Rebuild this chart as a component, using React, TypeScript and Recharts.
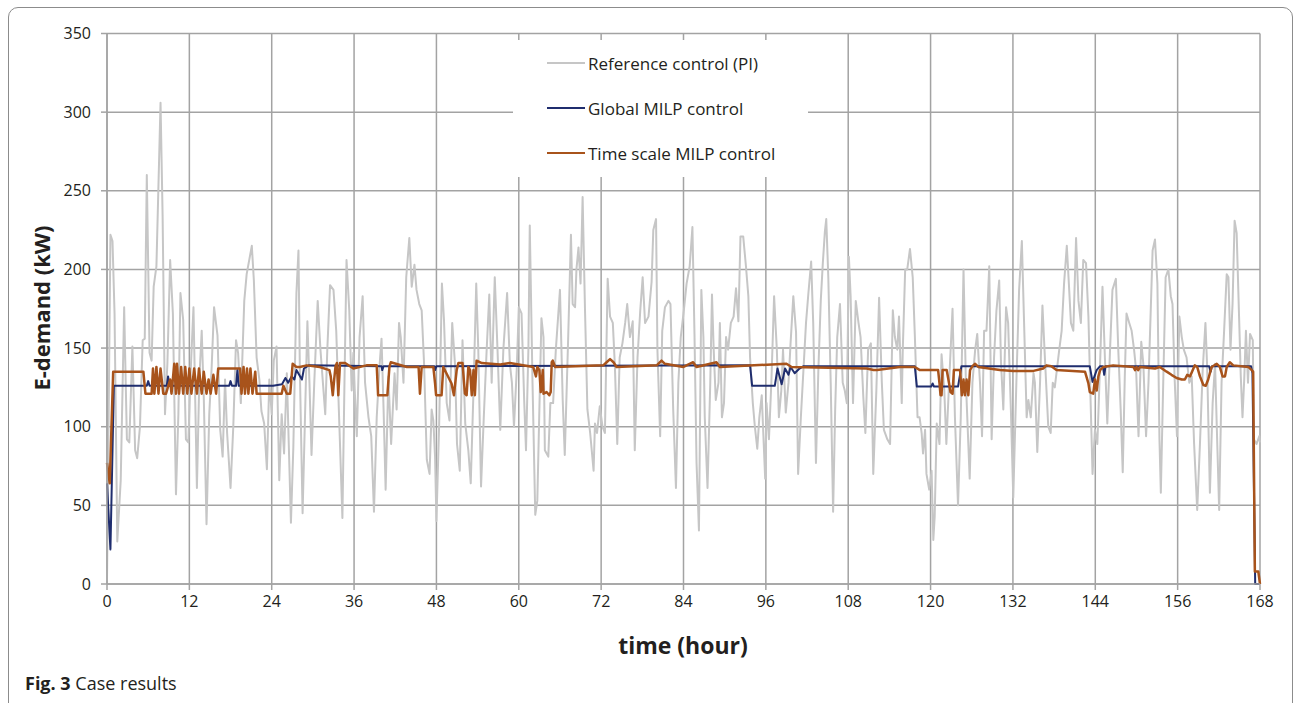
import { LineChart, Line, XAxis, YAxis, CartesianGrid } from 'recharts';

// hour, kW
const hourTicks = [0, 12, 24, 36, 48, 60, 72, 84, 96, 108, 120, 132, 144, 156, 168];
const demandTicks = [0, 50, 100, 150, 200, 250, 300, 350];

const referencePI: [number, number][] = [
  [0, 2], [0.5, 222], [0.8, 218], [1.1, 172], [1.5, 27], [2.0, 66], [2.5, 176], [2.9, 92], [3.25, 90], [3.7, 151],
  [4.1, 85], [4.4, 80], [4.8, 100], [5.2, 155], [5.5, 156], [5.8, 260], [6.2, 147], [6.5, 142], [6.8, 189], [7.2, 202],
  [7.8, 306], [8.1, 235], [8.45, 108], [8.8, 140], [9.2, 206], [9.6, 172], [10.05, 57], [10.4, 108], [10.7, 185], [11.1, 168],
  [11.5, 92], [11.85, 90], [12.2, 136], [12.6, 176], [13.1, 61], [13.45, 130], [13.8, 161], [14.1, 119], [14.5, 38], [14.9, 108],
  [15.25, 138], [15.6, 176], [16.1, 158], [16.5, 98], [16.85, 81], [17.2, 130], [17.5, 96], [18.0, 61], [18.4, 100], [18.8, 155],
  [19.1, 147], [19.5, 115], [20.0, 180], [20.35, 197], [21.1, 215], [21.4, 193], [21.8, 144], [22.2, 130], [22.5, 110], [22.9, 102],
  [23.3, 73], [23.65, 130], [24.0, 108], [24.3, 142], [24.7, 151], [25.1, 66], [25.45, 108], [25.8, 83], [26.2, 134], [26.8, 39],
  [27.15, 87], [27.6, 185], [27.9, 212], [28.1, 136], [28.5, 45], [28.85, 106], [29.2, 167], [29.5, 128], [29.8, 82], [30.2, 128],
  [30.7, 180], [31.1, 149], [31.8, 108], [32.1, 149], [32.5, 190], [33.0, 187], [33.4, 161], [33.85, 102], [34.3, 42], [34.6, 128],
  [34.9, 206], [35.3, 174], [35.65, 123], [35.9, 147], [36.1, 123], [36.4, 94], [36.8, 157], [37.25, 183], [37.6, 128], [38.1, 106],
  [38.5, 94], [38.9, 46], [39.3, 106], [39.7, 138], [40.0, 156], [40.3, 111], [40.6, 60], [41.0, 132], [41.4, 89], [41.9, 134],
  [42.2, 111], [42.55, 166], [42.8, 157], [43.2, 128], [43.6, 195], [44.05, 220], [44.4, 189], [44.8, 203], [45.1, 187], [45.5, 178],
  [45.85, 174], [46.2, 140], [46.6, 79], [47.0, 70], [47.3, 111], [47.55, 104], [47.8, 81], [48.0, 40], [48.4, 102], [48.8, 191],
  [49.1, 168], [49.5, 115], [49.9, 104], [50.3, 166], [50.7, 140], [51.0, 89], [51.4, 72], [51.8, 155], [52.2, 102], [52.65, 85],
  [53.0, 64], [53.4, 123], [53.8, 191], [54.1, 149], [54.5, 62], [54.9, 106], [55.3, 147], [55.7, 184], [56.05, 128], [56.5, 195],
  [56.9, 149], [57.3, 98], [57.75, 149], [58.3, 185], [58.7, 140], [59.0, 128], [59.3, 100], [59.7, 136], [60.0, 176], [60.4, 172],
  [60.8, 115], [61.05, 85], [61.4, 149], [61.6, 228], [62.0, 128], [62.4, 44], [62.7, 53], [63.0, 111], [63.3, 169], [63.6, 157],
  [63.8, 85], [64.3, 81], [64.6, 115], [65.0, 115], [65.4, 149], [66.0, 187], [66.4, 117], [66.7, 82], [67.2, 157], [67.6, 222],
  [67.85, 178], [68.2, 176], [68.4, 200], [68.7, 214], [69.0, 191], [69.3, 246], [69.65, 174], [70.0, 111], [70.4, 96], [70.9, 72],
  [71.1, 102], [71.4, 96], [71.8, 113], [72.2, 100], [72.55, 96], [72.95, 194], [73.3, 170], [73.7, 166], [74.0, 139], [74.35, 89],
  [74.7, 144], [75.1, 153], [75.5, 166], [75.8, 178], [76.2, 157], [76.6, 167], [76.9, 85], [77.3, 144], [77.7, 174], [78.05, 195],
  [78.4, 166], [78.9, 170], [79.35, 192], [79.6, 225], [80.0, 232], [80.2, 149], [80.6, 94], [80.9, 161], [81.3, 176], [81.8, 180],
  [82.1, 178], [82.5, 111], [82.9, 61], [83.25, 128], [83.6, 157], [84.05, 174], [84.45, 191], [84.9, 202], [85.3, 227], [85.6, 159],
  [85.9, 77], [86.25, 34], [86.6, 187], [86.9, 157], [87.1, 106], [87.5, 61], [87.9, 128], [88.15, 184], [88.4, 149], [88.7, 117],
  [89.1, 128], [89.3, 166], [89.6, 106], [89.9, 115], [90.2, 157], [90.5, 149], [90.9, 166], [91.3, 170], [91.65, 188], [92.0, 167],
  [92.3, 221], [92.7, 221], [93.1, 202], [93.45, 183], [93.7, 144], [94.1, 115], [94.4, 100], [94.75, 86], [95.05, 106], [95.4, 120],
  [95.9, 67], [96.1, 115], [96.45, 92], [96.8, 128], [97.2, 183], [97.6, 149], [97.9, 106], [98.25, 123], [98.5, 149], [98.9, 109],
  [99.3, 128], [99.6, 153], [100.0, 183], [100.4, 160], [100.7, 70], [101.1, 106], [101.5, 138], [101.85, 166], [102.2, 185], [102.6, 205],
  [102.9, 166], [103.3, 77], [103.65, 136], [104.0, 180], [104.3, 204], [104.6, 224], [104.8, 232], [105.1, 195], [105.45, 128], [105.8, 46],
  [106.1, 111], [106.4, 157], [106.8, 178], [107.2, 128], [107.5, 123], [107.8, 115], [108.1, 208], [108.35, 183], [108.7, 115], [109.1, 180],
  [109.5, 166], [109.8, 157], [110.2, 119], [110.5, 96], [110.9, 149], [111.3, 153], [111.65, 70], [112.1, 123], [112.5, 182], [112.9, 128],
  [113.2, 98], [113.7, 92], [114.1, 89], [114.5, 174], [114.8, 157], [115.15, 149], [115.4, 170], [115.8, 115], [115.95, 149], [116.3, 200],
  [116.6, 200], [117.0, 213], [117.4, 195], [117.7, 159], [118.1, 106], [118.4, 106], [118.7, 96], [118.9, 83], [119.2, 98], [119.4, 70],
  [119.8, 60], [120.15, 72], [120.4, 28], [120.6, 43], [120.9, 102], [121.3, 89], [121.6, 146], [122.0, 123], [122.3, 89], [122.7, 128],
  [123.2, 175], [123.55, 106], [124.0, 50], [124.4, 106], [124.8, 200], [125.15, 128], [125.7, 67], [126.1, 128], [126.5, 149], [126.8, 159],
  [127.2, 128], [127.5, 94], [127.8, 161], [128.15, 161], [128.55, 202], [128.9, 92], [129.25, 144], [129.6, 174], [130.0, 193], [130.25, 142],
  [130.6, 111], [131.0, 176], [131.3, 166], [131.7, 111], [132.05, 55], [132.5, 128], [132.9, 187], [133.3, 218], [133.6, 170], [134.0, 106],
  [134.25, 117], [134.6, 106], [135.0, 134], [135.2, 128], [135.55, 84], [135.95, 128], [136.3, 177], [136.7, 140], [137.15, 100], [137.5, 96],
  [137.8, 128], [138.1, 125], [138.75, 149], [139.1, 161], [139.45, 191], [139.85, 215], [140.15, 191], [140.45, 166], [140.8, 161], [141.2, 220],
  [141.55, 180], [141.9, 166], [142.25, 206], [142.65, 204], [143.0, 170], [143.3, 119], [143.6, 70], [143.95, 98], [144.3, 89], [144.7, 140],
  [145.05, 189], [145.4, 144], [145.75, 102], [146.15, 149], [146.5, 187], [147.0, 194], [147.35, 149], [147.7, 111], [148.0, 71], [148.3, 132],
  [148.55, 172], [148.95, 166], [149.3, 161], [149.65, 149], [149.95, 136], [150.3, 94], [150.7, 154], [151.0, 140], [151.4, 94], [151.75, 128],
  [152.05, 170], [152.35, 212], [152.7, 219], [153.05, 191], [153.35, 92], [153.55, 58], [153.9, 128], [154.25, 195], [154.65, 200], [155.0, 183],
  [155.25, 178], [155.55, 132], [155.9, 94], [156.25, 170], [156.6, 157], [156.9, 149], [157.3, 144], [157.7, 128], [158.05, 132], [158.4, 89],
  [158.85, 47], [159.25, 89], [159.65, 136], [160.05, 166], [160.3, 138], [160.7, 58], [161.1, 115], [161.45, 140], [161.8, 85], [162.05, 47],
  [162.4, 128], [162.75, 159], [163.15, 197], [163.4, 195], [163.7, 149], [164.0, 178], [164.3, 231], [164.6, 223], [164.95, 170], [165.2, 132],
  [165.45, 106], [165.7, 130], [165.95, 161], [166.25, 128], [166.55, 159], [166.95, 155], [167.1, 92], [167.5, 89], [167.9, 94], [168, 90],
];

const globalMILP: [number, number][] = [
  [0, 64], [0.5, 22], [1.0, 126], [5.8, 126], [6.0, 129], [6.2, 126], [8.7, 126], [8.9, 132], [9.1, 126], [17.8, 126],
  [18.0, 129], [18.2, 126], [18.8, 126], [19.0, 136], [19.2, 126], [24.2, 126], [25.5, 127], [26.0, 131], [26.4, 128], [26.9, 132],
  [27.3, 130], [27.6, 136], [28.0, 133], [28.4, 130], [28.7, 137], [29.4, 139], [40.0, 138.5], [40.1, 136], [40.3, 138.5], [47.7, 138.5],
  [47.8, 136], [48.0, 138.5], [93.7, 139], [94.0, 126], [97.3, 126], [97.7, 137], [98.3, 127], [98.8, 137], [99.3, 133], [99.6, 138],
  [100.2, 134], [100.9, 137], [101.5, 138.5], [117.7, 138.5], [118.0, 125.5], [120.1, 125.5], [120.3, 127.5], [120.5, 125.5], [124.0, 125.5], [124.5, 138.5],
  [143.2, 138.5], [143.6, 128.5], [144.2, 136], [144.7, 138.5], [145.1, 138.5], [145.3, 133], [145.5, 138.5], [160.6, 138.5], [160.8, 135], [161.0, 138.5],
  [166.7, 138.5], [166.9, 134], [167.3, 0], [168, 0],
];

const timeScaleMILP: [number, number][] = [
  [0, 77], [0.4, 64], [0.9, 135], [5.3, 135], [5.6, 121], [6.5, 121], [6.7, 137], [6.9, 121], [7.2, 138], [7.5, 121],
  [7.8, 137], [8.2, 121], [8.6, 121], [9.2, 130], [9.4, 121], [9.8, 140], [10.05, 121], [10.2, 140], [10.5, 121], [10.8, 138],
  [11.1, 121], [11.4, 138], [11.7, 121], [12.0, 137], [12.3, 121], [12.7, 137], [13.1, 121], [13.4, 137], [13.8, 121], [14.1, 135],
  [14.5, 121], [14.8, 130], [15.1, 121], [15.5, 133], [15.9, 121], [16.2, 137], [16.6, 137], [19.4, 137], [19.6, 121], [19.9, 138],
  [20.1, 121], [20.4, 137], [20.6, 121], [20.9, 137], [21.2, 121], [21.6, 135], [21.8, 121], [25.45, 121], [25.7, 126], [26.2, 121],
  [26.7, 121], [27.05, 140], [27.6, 138], [28.1, 138], [29.1, 139], [31.0, 138], [32.4, 136], [32.6, 132], [32.9, 120], [33.1, 130],
  [33.3, 138.5], [33.5, 140.5], [33.7, 120], [33.95, 140.5], [34.7, 140.5], [35.9, 137], [37.8, 139], [39.3, 139], [39.5, 120], [40.85, 120],
  [41.15, 138], [41.35, 141], [43.7, 138], [45.4, 138], [45.6, 121], [45.85, 138], [47.55, 138], [47.8, 127.5], [47.95, 120], [48.75, 120],
  [49.0, 138], [50.2, 127.5], [50.55, 120], [50.95, 136], [51.2, 140.5], [51.8, 140.5], [52.15, 121], [52.4, 120], [52.65, 138], [52.9, 136],
  [53.15, 120], [53.4, 136], [53.6, 120], [53.85, 142], [54.6, 140.5], [57.3, 139.5], [58.7, 140.5], [62.1, 138], [62.5, 132], [62.7, 138],
  [63.0, 136], [63.2, 122], [63.5, 136], [63.6, 121], [64.05, 122], [64.45, 120], [64.65, 122], [64.8, 141], [64.95, 142], [65.3, 138],
  [72.3, 139], [72.8, 141], [73.3, 143], [73.8, 141], [74.25, 138], [80.1, 139], [80.8, 142], [81.3, 140], [84.0, 138], [85.4, 141],
  [85.9, 138], [88.8, 141], [89.3, 138], [99.0, 140], [99.75, 138], [110.7, 137], [111.7, 136], [112.2, 136], [115.5, 138], [117.7, 138],
  [118.45, 136], [121.1, 136], [121.3, 127.5], [121.45, 120], [121.6, 120], [121.75, 136], [122.35, 136], [122.7, 127.5], [122.9, 122], [123.2, 121],
  [123.4, 136], [124.3, 136], [124.55, 120], [124.8, 130], [125.0, 120], [125.25, 130], [125.5, 120], [125.75, 136], [126.1, 138.5], [126.5, 140],
  [126.95, 138], [130.1, 136], [132.05, 135.5], [135.0, 135.5], [136.4, 137], [136.9, 139], [137.6, 138.5], [138.35, 136], [142.5, 135], [143.0, 127.5],
  [143.2, 122], [143.7, 121], [143.95, 130], [144.2, 123], [144.45, 132], [144.7, 136], [145.2, 138], [146.6, 139], [149.55, 138], [149.8, 136],
  [150.0, 138], [150.25, 136], [150.5, 138], [152.7, 137], [153.4, 138], [154.4, 135], [155.1, 133], [155.85, 131], [156.6, 130], [157.05, 130],
  [157.4, 133], [157.8, 132], [158.5, 139], [158.85, 138], [159.25, 132], [159.75, 126.5], [160.1, 126], [160.45, 130], [160.95, 138], [161.7, 140],
  [162.15, 138], [162.55, 132], [162.9, 132], [163.15, 138], [163.6, 141], [164.1, 139], [166.3, 138], [166.8, 136], [167.0, 135], [167.25, 8],
  [167.75, 8], [168, 0],
];

const series = [
  { name: 'Reference control (PI)', data: referencePI, color: '#c6c6c6', width: 2 },
  { name: 'Global MILP control', data: globalMILP, color: '#1f2d6e', width: 2 },
  { name: 'Time scale MILP control', data: timeScaleMILP, color: '#a8531b', width: 2.5 },
];

const toPoints = (pairs: [number, number][]) => pairs.map(([hour, kw]) => ({ hour, kw }));

const FONT = '"Open Sans", sans-serif';
const GRID = '#a3a3a3';

// white legend box sits over the grid, like the original
const LegendBox = () => (
  <div style={{ position: 'absolute', left: 513, top: 40, width: 295, height: 137, background: '#fff', fontFamily: FONT }}>
    {series.map((s, i) => (
      <div key={s.name} style={{ position: 'absolute', left: 34, top: 23 + i * 45 - 11, height: 22, display: 'flex', alignItems: 'center' }}>
        <div style={{ width: 38, height: 0, borderTop: `${s.width}px solid ${s.color}` }} />
        <span style={{ marginLeft: 3, fontSize: 17, color: '#231f20', whiteSpace: 'nowrap' }}>{s.name}</span>
      </div>
    ))}
  </div>
);

export default function App() {
  return (
    <div style={{ position: 'absolute', left: 0, top: 0, width: 1294, height: 703, background: '#fff', overflow: 'hidden', fontFamily: FONT }}>
      <div style={{ position: 'absolute', left: 8, top: 7, width: 1285, height: 760, boxSizing: 'border-box', border: '1.5px solid #8c8c8c', borderRadius: 10 }} />
      <div style={{ position: 'absolute', left: 0, top: 0 }}>
        <LineChart width={1294} height={703} margin={{ top: 33.5, right: 34, bottom: 89, left: 47 }}>
          <CartesianGrid stroke={GRID} strokeWidth={1.5} />
          <XAxis
            dataKey="hour"
            type="number"
            domain={[0, 168]}
            ticks={hourTicks}
            interval={0}
            height={30}
            tickSize={6}
            tickMargin={6}
            axisLine={{ stroke: GRID, strokeWidth: 1.5 }}
            tickLine={{ stroke: GRID, strokeWidth: 1.5 }}
            tick={{ fill: '#231f20', fontSize: 16, fontFamily: FONT }}
          />
          <YAxis
            dataKey="kw"
            type="number"
            domain={[0, 350]}
            ticks={demandTicks}
            interval={0}
            width={60}
            tickSize={6}
            tickMargin={10}
            axisLine={{ stroke: GRID, strokeWidth: 1.5 }}
            tickLine={{ stroke: GRID, strokeWidth: 1.5 }}
            tick={{ fill: '#231f20', fontSize: 16, fontFamily: FONT }}
          />
          {series.map((s) => (
            <Line
              key={s.name}
              data={toPoints(s.data)}
              dataKey="kw"
              name={s.name}
              type="linear"
              stroke={s.color}
              strokeWidth={s.width}
              strokeLinejoin="round"
              dot={false}
              activeDot={false}
              isAnimationActive={false}
            />
          ))}
        </LineChart>
      </div>
      <LegendBox />
      <div style={{ position: 'absolute', left: 41, top: 308, transform: 'translate(-50%, -50%) rotate(-90deg)', fontSize: 22, fontWeight: 700, color: '#231f20', whiteSpace: 'nowrap' }}>
        E-demand (kW)
      </div>
      <div style={{ position: 'absolute', left: 683, top: 645, transform: 'translate(-50%, -50%)', fontSize: 23, fontWeight: 700, color: '#231f20', whiteSpace: 'nowrap' }}>
        time (hour)
      </div>
      <div style={{ position: 'absolute', left: 25, top: 670, fontSize: 18, lineHeight: '26px', color: '#231f20', whiteSpace: 'nowrap' }}>
        <b>Fig. 3</b> Case results
      </div>
    </div>
  );
}
